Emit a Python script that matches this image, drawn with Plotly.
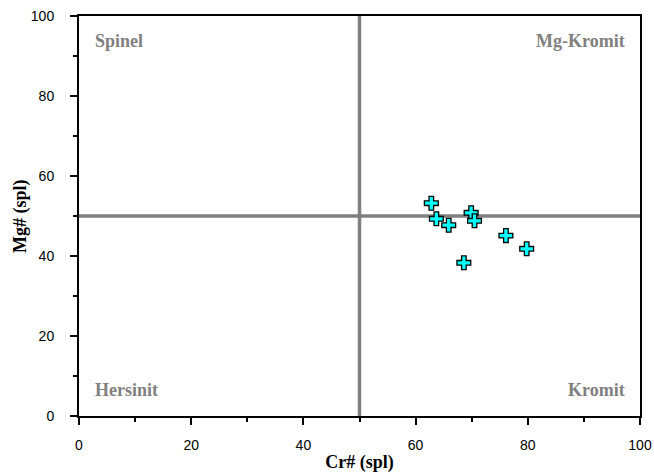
import plotly.graph_objects as go

# Spinel compositions: Cr# and Mg# of each analysed grain
cr_number = [62.8, 63.7, 65.9, 69.9, 70.5, 68.6, 76.1, 79.8]
mg_number = [53.2, 49.3, 47.7, 50.8, 48.8, 38.3, 45.1, 41.8]

# Field boundaries of the classification diagram
cr_split = 50
mg_split = 50

# Field names: (label, x, y, anchor)
field_names = ["Spinel", "Mg-Kromit", "Hersinit", "Kromit"]
field_x = [2.5, 97.6, 2.5, 97.6]
field_y = [93.7, 93.7, 6.5, 6.5]
field_anchor = ["left", "right", "left", "right"]

tick_vals = [0, 20, 40, 60, 80, 100]

fig = go.Figure()

fig.add_trace(go.Scatter(
    x=cr_number,
    y=mg_number,
    mode="markers",
    marker=dict(symbol="cross", size=11.5, color="#00FFFF",
                line=dict(color="black", width=1.3)),
    showlegend=False,
    hoverinfo="x+y",
))

# Quadrant dividers
fig.add_shape(type="line", x0=cr_split, x1=cr_split, y0=0, y1=100,
              xref="x", yref="y", line=dict(color="#808080", width=3.5), layer="below")
fig.add_shape(type="line", x0=0, x1=100, y0=mg_split, y1=mg_split,
              xref="x", yref="y", line=dict(color="#808080", width=3.5), layer="below")

for name, fx, fy, anc in zip(field_names, field_x, field_y, field_anchor):
    fig.add_annotation(x=fx, y=fy, text="<b>%s</b>" % name, showarrow=False,
                       xanchor=anc, yanchor="middle",
                       font=dict(family="Liberation Serif", size=18, color="#808080"))

# Vertical axis title, placed as a rotated annotation left of the tick labels
fig.add_annotation(xref="paper", yref="paper", x=0, y=0.5, xshift=-59,
                   text="<b>Mg# (spl)</b>", textangle=-90, showarrow=False,
                   xanchor="center", yanchor="middle",
                   font=dict(family="Liberation Serif", size=18, color="black"))

axis_common = dict(
    range=[0, 100],
    tickvals=tick_vals,
    ticks="outside",
    ticklen=7,
    tickwidth=2,
    tickcolor="black",
    showline=True,
    linecolor="black",
    linewidth=2,
    mirror=True,
    showgrid=False,
    zeroline=False,
    automargin=False,
    tickfont=dict(family="Liberation Sans", size=14, color="black"),
    minor=dict(dtick=10, ticks="outside", ticklen=4, tickwidth=2, tickcolor="black"),
)

fig.update_xaxes(**axis_common,
                 title=dict(text="<b>Cr# (spl)</b>", standoff=4,
                            font=dict(family="Liberation Serif", size=18, color="black")),
                 ticklabelstandoff=8)
fig.update_yaxes(**axis_common, ticklabelstandoff=13)

fig.update_layout(
    width=654,
    height=476,
    margin=dict(l=79, r=14, t=16, b=60),
    plot_bgcolor="white",
    paper_bgcolor="white",
)

fig.write_html("out.html")
